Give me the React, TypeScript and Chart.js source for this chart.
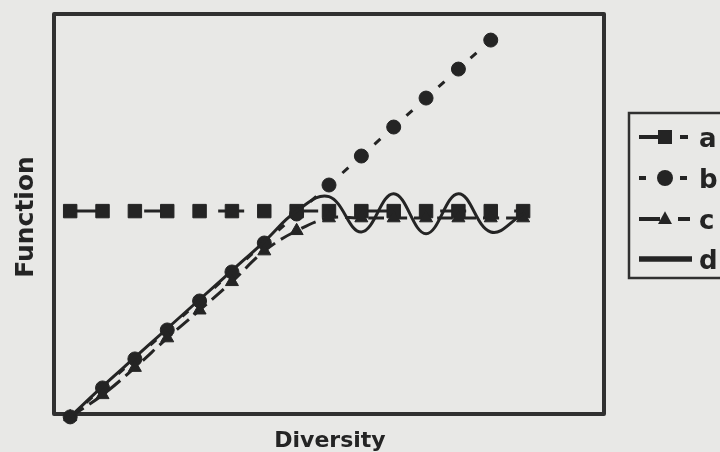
import { useEffect, useRef } from "react";
import { Chart, registerables } from "chart.js";

Chart.register(...registerables);

// ---- data ----
const diversity = [0, 1, 2, 3, 4, 5, 6, 7, 8, 9, 10, 11, 12, 13, 14];
const seriesNames = ["a", "b", "c", "d"];
const seriesA = [7.1, 7.1, 7.1, 7.1, 7.1, 7.1, 7.1, 7.1, 7.1, 7.1, 7.1, 7.1, 7.1, 7.1, 7.1];
const seriesB = [0, 1, 2, 3, 4, 5, 6, 7, 8, 9, 10, 11, 12, 13];
const seriesC = [0, 0.76, 1.7, 2.72, 3.68, 4.66, 5.72, 6.42, 6.86, 6.86, 6.86, 6.86, 6.86, 6.86, 6.86];
const seriesD = [0, 1.05, 2.05, 3.05, 4.05, 5.05, 6.05, 7.1, 7.6, 6.38, 7.7, 6.32, 7.7, 6.38, 7.0];
const xTitle = "Diversity";
const yTitle = "Function";

const BG = "#e8e8e6";
const INK = "#242424";
const FRAME = "#303030";
const FONT = "'DejaVu Sans', sans-serif";

const toPoints = (ys: number[]) => ys.map((y, i) => ({ x: diversity[i], y }));

type Marker = "rect" | "circle" | "triangle" | "none";

function drawMarker(ctx: CanvasRenderingContext2D, m: Marker, x: number, y: number, s: number) {
  ctx.beginPath();
  if (m === "rect") {
    ctx.rect(x - s, y - s, 2 * s, 2 * s);
  } else if (m === "circle") {
    ctx.arc(x, y, s, 0, Math.PI * 2);
  } else if (m === "triangle") {
    ctx.moveTo(x, y - s * 1.1);
    ctx.lineTo(x + s, y + s * 0.7);
    ctx.lineTo(x - s, y + s * 0.7);
    ctx.closePath();
  } else {
    return;
  }
  ctx.fill();
}

const legendSpec: { marker: Marker; size: number; dash: number[]; width: number }[] = [
  { marker: "rect", size: 7, dash: [26, 15, 8, 100], width: 4 },
  { marker: "circle", size: 8, dash: [7, 13.5], width: 4 },
  { marker: "triangle", size: 7, dash: [21, 18, 15, 100], width: 4 },
  { marker: "none", size: 0, dash: [], width: 5.5 },
];

const decor = {
  id: "decor",
  beforeDraw(chart: any) {
    const { ctx, width, height } = chart;
    ctx.save();
    ctx.fillStyle = BG;
    ctx.fillRect(0, 0, width, height);
    ctx.restore();
  },
  beforeDatasetsDraw(chart: any) {
    const { ctx, chartArea } = chart;
    const { left, top, right, bottom } = chartArea;
    ctx.save();
    ctx.lineWidth = 4;
    ctx.strokeStyle = FRAME;
    ctx.lineJoin = "round";
    ctx.strokeRect(left, top, right - left, bottom - top);
    ctx.restore();
  },
  afterDraw(chart: any) {
    const { ctx, chartArea } = chart;
    const { left, top, right, bottom } = chartArea;
    ctx.save();
    ctx.fillStyle = INK;
    // axis titles
    ctx.font = `bold 22px ${FONT}`;
    ctx.textAlign = "center";
    ctx.textBaseline = "alphabetic";
    ctx.fillText(xTitle, (left + right) / 2 + 1, 447);
    ctx.save();
    ctx.translate(33, (top + bottom) / 2 + 3);
    ctx.rotate(-Math.PI / 2);
    ctx.font = `bold 25px ${FONT}`;
    ctx.fillText(yTitle, 0, 0);
    ctx.restore();

    // legend
    ctx.lineWidth = 2.5;
    ctx.strokeStyle = FRAME;
    ctx.strokeRect(629, 113, 110, 165);
    const rows = [137, 178, 219, 259];
    chart.data.datasets.forEach((ds: any, i: number) => {
      const spec = legendSpec[i];
      const y = rows[i];
      ctx.save();
      ctx.strokeStyle = ds.borderColor;
      ctx.fillStyle = ds.borderColor;
      ctx.lineWidth = spec.width;
      ctx.setLineDash(spec.dash);
      ctx.beginPath();
      ctx.moveTo(639, y);
      ctx.lineTo(i === 3 ? 692 : 690, y);
      ctx.stroke();
      ctx.setLineDash([]);
      drawMarker(ctx, spec.marker, 665, y, spec.size);
      ctx.font = `bold 26px ${FONT}`;
      ctx.textAlign = "left";
      ctx.textBaseline = "alphabetic";
      ctx.fillStyle = INK;
      ctx.fillText(ds.label, 699, y + 10);
      ctx.restore();
    });
    ctx.restore();
  },
};

export default function App() {
  const ref = useRef<HTMLCanvasElement | null>(null);

  useEffect(() => {
    document.body.style.margin = "0";
    document.body.style.background = BG;
    const canvas = ref.current;
    if (!canvas) return;
    const common = {
      borderColor: INK,
      backgroundColor: INK,
      pointBackgroundColor: INK,
      pointBorderColor: INK,
      pointBorderWidth: 1,
      borderWidth: 3,
      fill: false,
      clip: false as const,
    };
    const chart = new Chart(canvas, {
      type: "line",
      data: {
        datasets: [
          {
            ...common,
            label: seriesNames[0],
            data: toPoints(seriesA),
            borderDash: [26, 48],
            pointStyle: "rect",
            pointRadius: 9.5,
            tension: 0,
            order: 4,
          },
          {
            ...common,
            label: seriesNames[1],
            data: toPoints(seriesB),
            borderDash: [8, 13.5],
            pointStyle: "circle",
            pointRadius: 7,
            tension: 0,
            order: 3,
          },
          {
            ...common,
            label: seriesNames[2],
            data: toPoints(seriesC),
            borderDash: [16, 7],
            pointStyle: "triangle",
            pointRadius: 7.5,
            tension: 0.4,
            order: 2,
          },
          {
            ...common,
            label: seriesNames[3],
            data: toPoints(seriesD),
            pointRadius: 0,
            tension: 0.4,
            order: 1,
          },
        ],
      },
      options: {
        animation: false,
        responsive: false,
        devicePixelRatio: 1,
        layout: { padding: { left: 54, top: 14, right: 116, bottom: 38 } },
        plugins: { legend: { display: false }, tooltip: { enabled: false }, title: { display: false } },
        events: [],
        scales: {
          x: { type: "linear", min: -0.5, max: 16.5, display: false },
          y: { type: "linear", min: 0.1, max: 13.9, display: false },
        },
      },
      plugins: [decor],
    });
    return () => chart.destroy();
  }, []);

  return (
    <div style={{ position: "absolute", left: 0, top: 0, width: 720, height: 452 }}>
      <canvas ref={ref} width={720} height={452} />
    </div>
  );
}
